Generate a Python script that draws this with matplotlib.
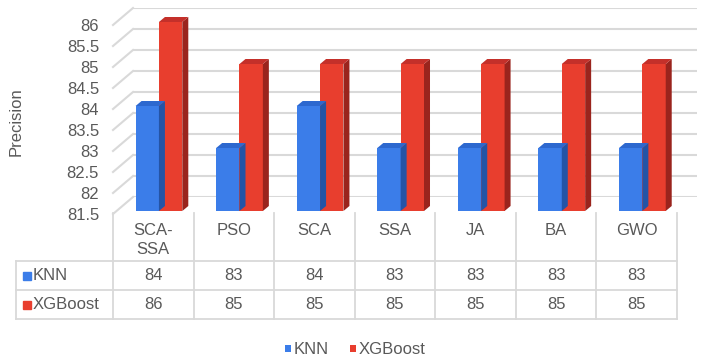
import matplotlib
matplotlib.use('Agg')
import matplotlib.pyplot as plt
from matplotlib.patches import Polygon, Rectangle
from matplotlib.lines import Line2D
from matplotlib.transforms import IdentityTransform, offset_copy

# data
categories = ['SCA-\nSSA', 'PSO', 'SCA', 'SSA', 'JA', 'BA', 'GWO']
knn = [84, 83, 84, 83, 83, 83, 83]
xgboost = [86, 85, 85, 85, 85, 85, 85]
series_names = ['KNN', 'XGBoost']
yticks = [81.5, 82, 82.5, 83, 83.5, 84, 84.5, 85, 85.5, 86]

plt.rcParams['font.family'] = ['Liberation Sans', 'DejaVu Sans']
plt.rcParams['font.size'] = 12
txt_col = '#595959'
grid_col = '#d9d9d9'

W, H = 708, 364
fig = plt.figure(figsize=(W / 100, H / 100), dpi=100)

# front plane axes (px -> fraction)
ax_l, ax_r, ax_t, ax_b = 113, 677, 25, 214
depth_x, depth_y = 20, 17
pos = [ax_l / W, 1 - ax_b / H, (ax_r - ax_l) / W, (ax_b - ax_t) / H]
back_pos = [pos[0] + depth_x / W, pos[1] + depth_y / H, pos[2], pos[3]]

# back wall with gridlines
ax_back = fig.add_axes(back_pos)
ax_back.set_ylim(81.5, 86)
ax_back.set_yticks(yticks)
ax_back.grid(axis='y', color=grid_col, linewidth=1.5)
ax_back.set_xticks([])
ax_back.tick_params(left=False, labelleft=False)
for s in ax_back.spines.values():
    s.set_visible(False)
ax_back.patch.set_alpha(0)

ax = fig.add_axes(pos)
ax.patch.set_alpha(0)
ax.set_xlim(-0.5, len(categories) - 0.5)
ax.set_ylim(81.5, 86)
ax.set_yticks(yticks)
ax.set_yticklabels([('%g' % t) for t in yticks], color=txt_col, fontsize=12)
ax.tick_params(axis='y', length=0, pad=10)
ax.set_xticks([])
for s in ax.spines.values():
    s.set_visible(False)
ax.set_ylabel('Precision', color=txt_col, fontsize=12)
ax.yaxis.set_label_coords(-0.158, 0.49)

# diagonal lines joining front ticks to back wall
for t in yticks:
    px, py = ax.transData.transform((-0.5, t))
    fig.add_artist(Line2D([px, px + depth_x], [py, py + depth_y],
                          transform=IdentityTransform(), color=grid_col, lw=1.5))

# bars with a pseudo 3d look
bw = 0.29
shift = 0.07
front_cols = ['#3b7de9', '#e83e2e']
cap_cols = ['#2d68cf', '#c4302a']
side_cols = ['#2454a6', '#9a241d']
bar_tr = offset_copy(ax.transData, fig=fig, x=0, y=3, units='dots')
dx, dy = 6, 5
xs = list(range(len(categories)))
handles = []
for k, vals in enumerate([knn, xgboost]):
    offs = [x - bw / 2 + shift + k * bw for x in xs]
    bars = ax.bar(offs, [v - 81.5 for v in vals], bw, bottom=81.5,
                  color=front_cols[k], label=series_names[k], zorder=3)
    handles.append(bars)
    for b, x, v in zip(bars, offs, vals):
        b.set_transform(bar_tr)
        b.set_clip_on(False)
        x0, y0 = bar_tr.transform((x - bw / 2, 81.5))
        x1, y1 = bar_tr.transform((x + bw / 2, v))
        side = Polygon([(x1, y0), (x1, y1), (x1 + dx, y1 + dy), (x1 + dx, y0 + dy)],
                       closed=True, transform=IdentityTransform(),
                       facecolor=side_cols[k], edgecolor='none', zorder=2)
        cap = Polygon([(x0, y1), (x1, y1), (x1 + dx, y1 + dy), (x0 + dx, y1 + dy)],
                      closed=True, transform=IdentityTransform(),
                      facecolor=cap_cols[k], edgecolor='none', zorder=2)
        fig.add_artist(side)
        fig.add_artist(cap)

# data table under the chart (x in data units, y in axes units)
def ay(px):
    return (ax_b - px) / (ax_b - ax_t)

def dxp(px):
    return -0.5 + (px - ax_l) / ((ax_r - ax_l) / len(categories))

tr = ax.get_xaxis_transform()
tab_left = dxp(16)
y_top, y_r1, y_r2, y_bot = ay(213), ay(261), ay(290), ay(319)
line_kw = dict(color=grid_col, lw=1.3, transform=tr, clip_on=False)
for j in range(len(categories) + 1):
    ax.plot([j - 0.5, j - 0.5], [y_top, y_bot], **line_kw)
ax.plot([tab_left, tab_left], [y_r1, y_bot], **line_kw)
for yy in [y_r1, y_r2, y_bot]:
    ax.plot([tab_left, len(categories) - 0.5], [yy, yy], **line_kw)

for j, cat in enumerate(categories):
    ax.text(j, ay(223), cat, transform=tr, ha='center', va='top', color=txt_col,
            fontsize=12, linespacing=1.35)
for i, (name, vals) in enumerate(zip(series_names, [knn, xgboost])):
    yc = (y_r1, y_r2)[i] + (y_r2 - y_r1) / 2
    ax.text(dxp(33), yc, name, transform=tr, ha='left', va='center',
            color=txt_col, fontsize=12)
    for j, v in enumerate(vals):
        ax.text(j, yc, str(v), transform=tr, ha='center', va='center',
                color=txt_col, fontsize=12)
    ypx = (275.5, 304.5)[i]
    fig.add_artist(Rectangle((23 / W, 1 - (ypx + 4) / H), 8 / W, 8 / H,
                             transform=fig.transFigure, color=front_cols[i]))

fig.legend(handles=handles, labels=series_names, loc='center', ncol=2,
           bbox_to_anchor=(355 / W, 1 - 350 / H), frameon=False,
           handlelength=0.35, handleheight=0.35, handletextpad=0.15,
           columnspacing=1.3, labelcolor=txt_col, fontsize=12)

fig.savefig('out.png', dpi=100)
